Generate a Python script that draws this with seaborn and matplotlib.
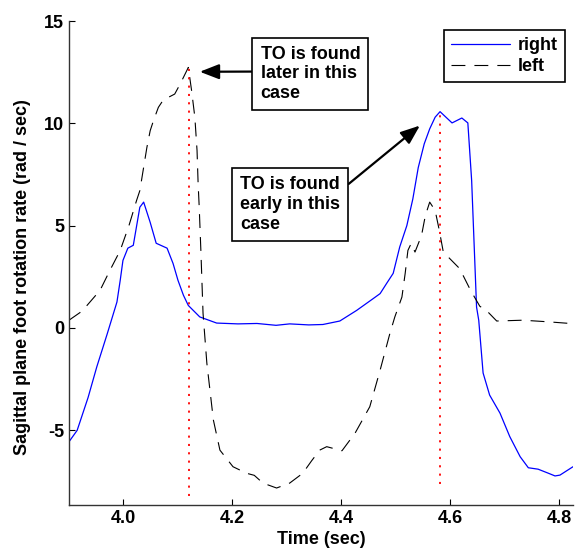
import numpy as np
import pandas as pd
import seaborn as sns
import matplotlib.pyplot as plt

# 样式
sns.set_style('ticks')
plt.rcParams['font.family'] = ['Liberation Sans', 'DejaVu Sans']
plt.rcParams['font.weight'] = 'bold'
plt.rcParams['lines.scale_dashes'] = False
plt.rcParams['axes.unicode_minus'] = False
plt.rcParams['text.color'] = 'k'
plt.rcParams['axes.labelcolor'] = 'k'

# 右脚数据 (time, rate)
t_right = [3.900, 3.915, 3.935, 3.951, 3.970, 3.988, 3.994, 3.999, 4.008, 4.018,
           4.030, 4.037, 4.049, 4.060, 4.080, 4.091, 4.100, 4.110, 4.119, 4.140,
           4.171, 4.210, 4.245, 4.280, 4.305, 4.340, 4.366, 4.397, 4.428, 4.458,
           4.471, 4.483, 4.495, 4.507, 4.520, 4.531, 4.541, 4.552, 4.562, 4.572,
           4.581, 4.603, 4.621, 4.632, 4.639, 4.648, 4.652, 4.660, 4.672, 4.691,
           4.709, 4.728, 4.743, 4.761, 4.780, 4.792, 4.801, 4.825]
v_right = [-5.56, -5.0, -3.4, -1.9, -0.3, 1.27, 2.33, 3.3, 3.9, 4.04,
           5.9, 6.15, 5.16, 4.14, 3.9, 3.15, 2.33, 1.6, 1.1, 0.54,
           0.24, 0.2, 0.22, 0.13, 0.2, 0.15, 0.17, 0.34, 0.86, 1.43,
           1.68, 2.18, 2.67, 3.96, 5.0, 6.3, 7.84, 9.0, 9.73, 10.3,
           10.57, 10.02, 10.26, 10.02, 7.2, 1.02, 0.38, -2.2, -3.28, -4.16,
           -5.31, -6.29, -6.83, -6.9, -7.1, -7.23, -7.19, -6.78]

# 左脚数据
t_left = [3.900, 3.920, 3.933, 3.957, 3.975, 3.994, 4.010, 4.024, 4.030, 4.036,
          4.043, 4.049, 4.055, 4.064, 4.073, 4.094, 4.104, 4.119, 4.125, 4.131,
          4.135, 4.137, 4.139, 4.142, 4.146, 4.153, 4.165, 4.177, 4.201, 4.226,
          4.240, 4.256, 4.281, 4.305, 4.329, 4.345, 4.360, 4.373, 4.401, 4.425,
          4.452, 4.471, 4.489, 4.498, 4.511, 4.517, 4.522, 4.528, 4.535, 4.547,
          4.554, 4.562, 4.572, 4.579, 4.587, 4.617, 4.637, 4.654, 4.666, 4.685,
          4.733, 4.780, 4.825]
v_left = [0.38, 0.75, 1.1, 1.84, 2.81, 3.79, 5.0, 6.23, 6.71, 7.69,
          8.83, 9.64, 10.13, 10.78, 11.14, 11.43, 11.92, 12.73, 11.6, 10.29,
          8.67, 7.04, 5.9, 3.8, 0.72, -1.72, -4.5, -5.97, -6.78, -7.1,
          -7.2, -7.58, -7.82, -7.58, -7.1, -6.5, -5.97, -5.8, -6.0, -5.14,
          -3.85, -2.06, -0.26, 0.54, 1.51, 2.67, 3.79, 4.13, 3.71, 4.52,
          5.49, 6.15, 5.74, 4.85, 3.71, 2.9, 1.84, 1.06, 0.86, 0.34,
          0.38, 0.3, 0.21]

# TO 标记
to_times = [4.12, 4.58]
to_low = [-8.2, -7.6]
to_high = [12.75, 10.7]

xticks = [4.0, 4.2, 4.4, 4.6, 4.8]
xtick_labels = ['4.0', '4.2', '4.4', '4.6', '4.8']
yticks = [-5, 0, 5, 10, 15]

right = pd.DataFrame({'t': t_right, 'v': v_right})
left = pd.DataFrame({'t': t_left, 'v': v_left})

fig = plt.figure(figsize=(5.78, 5.56), dpi=100)
ax = fig.add_axes([69 / 578, 51 / 556, 504 / 578, 484 / 556])

sns.lineplot(data=right, x='t', y='v', color='#0000ff', linewidth=0.9, label='right', ax=ax)
sns.lineplot(data=left, x='t', y='v', color='k', linewidth=0.8, label='left', ax=ax)
ax.lines[-1].set_dashes([10, 6.5])

ax.vlines(to_times, to_low, to_high, colors='red', linestyles=(0, (1.5, 4.5)), linewidth=1.3)

ax.set_xlim(3.9, 4.825)
ax.set_ylim(-8.65, 15)
ax.set_xticks(xticks)
ax.set_xticklabels(xtick_labels)
ax.set_yticks(yticks)
ax.tick_params(direction='in', length=4, width=0.8, labelsize=13, colors='k')
for lab in ax.get_xticklabels() + ax.get_yticklabels():
    lab.set_fontweight('bold')

sns.despine(ax=ax)
for s in ['left', 'bottom']:
    ax.spines[s].set_color('#333333')
    ax.spines[s].set_linewidth(1.0)

ax.set_xlabel('Time (sec)', fontsize=13, fontweight='bold', labelpad=3)
ax.set_ylabel('Sagittal plane foot rotation rate (rad / sec)', fontsize=13, fontweight='bold')
ax.yaxis.set_label_coords(-0.075, 0.47)

# 注释框
box = dict(boxstyle='square,pad=0.45', fc='white', ec='k', lw=1.2)
ax.annotate('TO is found\nlater in this\ncase', xy=(4.140, 12.52), xytext=(4.343, 12.42),
            ha='center', va='center', multialignment='left', fontsize=13, fontweight='bold',
            bbox=box,
            arrowprops=dict(arrowstyle='-|>,head_length=0.9,head_width=0.35', color='k',
                            lw=1.6, shrinkA=0, shrinkB=0, relpos=(0, 0.54)))
ax.annotate('TO is found\nearly in this\ncase', xy=(4.544, 9.89), xytext=(4.3055, 6.03),
            ha='center', va='center', multialignment='left', fontsize=13, fontweight='bold',
            bbox=box,
            arrowprops=dict(arrowstyle='-|>,head_length=0.9,head_width=0.35', color='k',
                            lw=1.6, shrinkA=0, shrinkB=0, relpos=(1, 0.74)))

leg = ax.legend(loc='upper right', bbox_to_anchor=(0.984, 0.981), borderaxespad=0,
                fontsize=13, handlelength=3.3, fancybox=False, framealpha=1,
                edgecolor='k', handletextpad=0.4, labelspacing=0.2, borderpad=0.4)
leg.get_frame().set_linewidth(1.2)
for txt in leg.get_texts():
    txt.set_fontweight('bold')

fig.savefig('out.png', dpi=100)
